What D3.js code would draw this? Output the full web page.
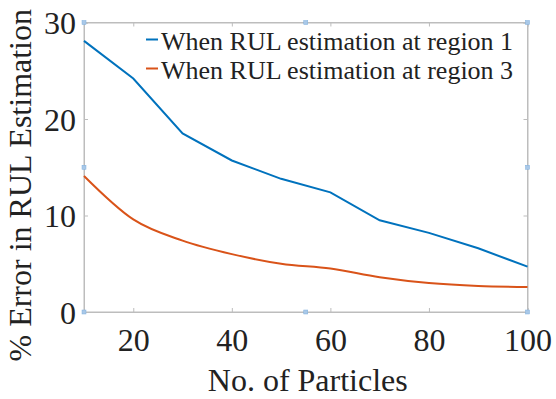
<!DOCTYPE html>
<html>
<head>
<meta charset="utf-8">
<script src="https://cdn.jsdelivr.net/npm/d3@7"></script>
<style>
  body { margin: 0; background: #fff; }
</style>
</head>
<body>
<script>
var particles = [10, 20, 30, 40, 50, 60, 70, 80, 90, 100];
var region1 = [28.1, 24.2, 18.5, 15.7, 13.8, 12.4, 9.5, 8.2, 6.6, 4.7];
var region3 = [14.1, 9.6, 7.4, 6.0, 5.0, 4.5, 3.6, 3.0, 2.7, 2.6];
var xTicks = [20, 40, 60, 80, 100];
var yTicks = [0, 10, 20, 30];
var seriesNames = ["When RUL estimation at region 1", "When RUL estimation at region 3"];
var colores = ["#0072BD", "#D95319"];

function graficar() {
    var w = 556, h = 399;
    var m = {left: 84, top: 22.5, right: 556 - 527.5, bottom: 399 - 312};
    var fuente = "Liberation Serif, Times New Roman, serif";

    var svg = d3.select("body").append("svg")
        .attr("width", w)
        .attr("height", h)
        .attr("font-family", fuente);

    var x = d3.scaleLinear().domain([10, 100]).range([m.left, w - m.right]);
    var y = d3.scaleLinear().domain([0, 30]).range([h - m.bottom, m.top]);

    var gris = "#bdbdbd";

    // caja
    svg.append("rect")
        .attr("x", x(10)).attr("y", y(30))
        .attr("width", x(100) - x(10)).attr("height", y(0) - y(30))
        .attr("fill", "none").attr("stroke", gris).attr("stroke-width", 1);

    // ticks hacia adentro
    var gx = svg.append("g").attr("transform", "translate(0," + y(0) + ")")
        .call(d3.axisBottom(x).tickValues(xTicks).tickSize(-4).tickPadding(16).tickFormat(d3.format("d")));
    var gxTop = svg.append("g").attr("transform", "translate(0," + y(30) + ")")
        .call(d3.axisTop(x).tickValues(xTicks).tickSize(-4).tickFormat(""));
    var gy = svg.append("g").attr("transform", "translate(" + x(10) + ",0)")
        .call(d3.axisLeft(y).tickValues(yTicks).tickSize(-4).tickPadding(8));
    var gyR = svg.append("g").attr("transform", "translate(" + x(100) + ",0)")
        .call(d3.axisRight(y).tickValues(yTicks).tickSize(-4).tickFormat(""));

    [gx, gxTop, gy, gyR].forEach(function(g) {
        g.attr("font-family", fuente);
        g.select(".domain").attr("stroke", gris);
        g.selectAll(".tick line").attr("stroke", gris);
        g.selectAll("text")
            .attr("font-size", 32)
            .attr("fill", "#222");
    });
    gx.selectAll(".tick text").attr("dy", "0.71em");
    gy.selectAll(".tick text").attr("dy", "0.35em");

    // lineas
    var linea1 = d3.line()
        .x(function(d, i) { return x(particles[i]); })
        .y(function(d) { return y(d); });
    var linea3 = d3.line()
        .curve(d3.curveMonotoneX)
        .x(function(d, i) { return x(particles[i]); })
        .y(function(d) { return y(d); });

    svg.append("path").datum(region3)
        .attr("d", linea3).attr("fill", "none")
        .attr("stroke", colores[1]).attr("stroke-width", 2);
    svg.append("path").datum(region1)
        .attr("d", linea1).attr("fill", "none")
        .attr("stroke", colores[0]).attr("stroke-width", 2);

    // leyenda
    var leg = svg.append("g");
    seriesNames.forEach(function(nombre, i) {
        var yy = 39.5 + i * 29;
        leg.append("line")
            .attr("x1", 146).attr("x2", 158)
            .attr("y1", yy).attr("y2", yy)
            .attr("stroke", colores[i]).attr("stroke-width", 2);
        leg.append("text")
            .attr("x", 161).attr("y", yy + 10.5)
            .attr("font-size", 26)
            .attr("fill", "#222")
            .text(nombre);
    });

    // titulos de ejes
    svg.append("text")
        .attr("x", (x(10) + x(100)) / 2 + 2)
        .attr("y", 391)
        .attr("text-anchor", "middle")
        .attr("font-size", 32)
        .attr("fill", "#222")
        .text("No. of Particles");

    svg.append("text")
        .attr("transform", "translate(31," + ((y(0) + y(30)) / 2 + 18) + ") rotate(-90)")
        .attr("text-anchor", "middle")
        .attr("font-size", 32)
        .attr("fill", "#222")
        .text("% Error in RUL Estimation");

    // marcas de seleccion
    var handles = [[10, 30], [100, 30], [10, 0], [100, 0], [55, 0], [55, 30], [10, 15], [100, 15]];
    svg.selectAll("rect.h")
        .data(handles)
        .enter()
        .append("rect")
        .attr("class", "h")
        .attr("x", function(d) { return x(d[0]) - 2; })
        .attr("y", function(d) { return y(d[1]) - 2; })
        .attr("width", 4).attr("height", 4)
        .attr("fill", "#a9c8e8").attr("stroke", "#7fb0dd").attr("stroke-width", 0.5);
}

graficar();
</script>
</body>
</html>
